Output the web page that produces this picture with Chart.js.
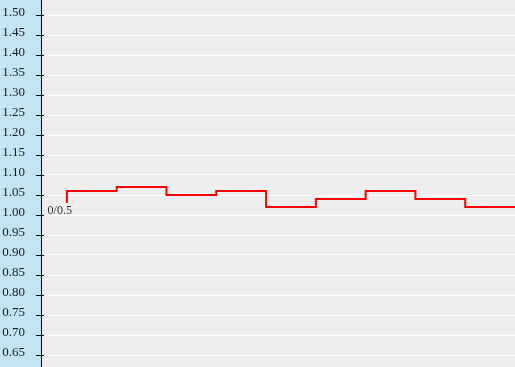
<!DOCTYPE html>
<html>
<head>
<meta charset="utf-8">
<script src="https://cdn.jsdelivr.net/npm/chart.js@4/dist/chart.umd.min.js"></script>
<style>
  html, body { margin: 0; padding: 0; background: #eeeeee; }
  #wrap { width: 515px; height: 367px; }
</style>
</head>
<body>
<div id="wrap"><canvas id="stepChart"></canvas></div>
<script>
// step positions and values
var steps = [0, 1, 2, 3, 4, 5, 6, 7, 8, 9];
var values = [1.03, 1.06, 1.07, 1.05, 1.06, 1.02, 1.04, 1.06, 1.04, 1.02];
var yTicks = [0.65, 0.70, 0.75, 0.80, 0.85, 0.90, 0.95, 1.00, 1.05, 1.10,
              1.15, 1.20, 1.25, 1.30, 1.35, 1.40, 1.45, 1.50];
var startLabel = "0/0.5";

var points = steps.map(function (x, i) {
    return { x: x, y: values[i] };
});

var panelPlugin = {
    id: "panel",
    beforeDraw: function (chart) {
        var ctx = chart.ctx;
        var area = chart.chartArea;
        ctx.save();
        ctx.fillStyle = "#c2e5f1";
        ctx.fillRect(0, 0, area.left, chart.height);
        ctx.fillStyle = "#eeeeee";
        ctx.fillRect(area.left, 0, chart.width - area.left, chart.height);
        ctx.restore();
    },
    afterDraw: function (chart) {
        var ctx = chart.ctx;
        var yScale = chart.scales.y;
        var xScale = chart.scales.x;
        var left = chart.chartArea.left;
        ctx.save();
        ctx.strokeStyle = "#000";
        ctx.lineWidth = 1;
        ctx.beginPath();
        ctx.moveTo(left - 0.5, 0);
        ctx.lineTo(left - 0.5, chart.height);
        yTicks.forEach(function (v) {
            var y = Math.round(yScale.getPixelForValue(v)) + 0.5;
            ctx.moveTo(left - 6, y);
            ctx.lineTo(left + 2, y);
        });
        ctx.stroke();
        // label at the start of the line
        ctx.fillStyle = "#333";
        ctx.font = "12px 'Liberation Serif', serif";
        ctx.textAlign = "right";
        ctx.textBaseline = "middle";
        ctx.fillText(startLabel, xScale.getPixelForValue(steps[0]) + 5,
            yScale.getPixelForValue(values[0]) + 8);
        ctx.restore();
    },
};

var ctx = document.getElementById("stepChart").getContext("2d");

new Chart(ctx, {
    type: "line",
    data: {
        datasets: [
            {
                data: points,
                borderColor: "#ff0000",
                borderWidth: 2,
                stepped: "after",
                pointRadius: 0,
                fill: false,
            },
        ],
    },
    options: {
        responsive: true,
        maintainAspectRatio: false,
        animation: false,
        layout: { padding: 0 },
        plugins: {
            legend: { display: false },
            tooltip: { enabled: false },
        },
        scales: {
            x: {
                type: "linear",
                display: false,
                min: -0.5,
                max: 9,
            },
            y: {
                min: 0.62,
                max: 1.5375,
                afterBuildTicks: function (scale) {
                    scale.ticks = yTicks.map(function (v) {
                        return { value: v };
                    });
                },
                afterFit: function (scale) {
                    scale.width = 42;
                    scale.paddingTop = 0;
                    scale.paddingBottom = 0;
                },
                grid: {
                    color: "#ffffff",
                    lineWidth: 1,
                    drawTicks: false,
                },
                border: { display: false },
                ticks: {
                    padding: 17,
                    labelOffset: -2,
                    color: "#1a1a2a",
                    font: { family: "'Liberation Serif', serif", size: 13 },
                    callback: function (v) {
                        return Number(v).toFixed(2);
                    },
                },
            },
        },
    },
    plugins: [panelPlugin],
});
</script>
</body>
</html>
